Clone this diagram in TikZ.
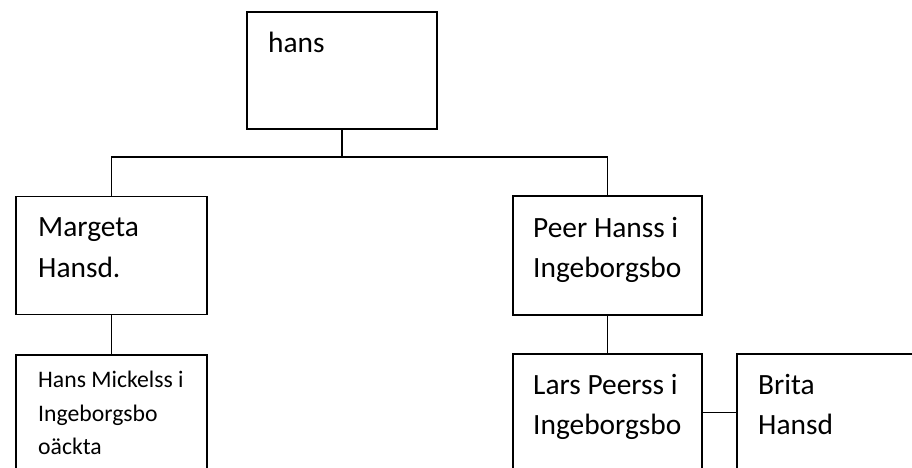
\documentclass[tikz,border=0pt]{standalone}
\usepackage{fontspec}
\setmainfont{Carlito}
\begin{document}
\begin{tikzpicture}[x=1pt,y=-1pt,
  box/.style={draw=black,line width=1.2pt,rectangle,inner sep=0pt,fill=none},
  big/.style={anchor=base west,inner sep=0pt,font=\fontsize{29.4}{36}\selectfont},
  small/.style={anchor=base west,inner sep=0pt,font=\fontsize{23.7}{30}\selectfont},
  link/.style={draw=black,line width=1.2pt}]
\useasboundingbox (0,0) rectangle (912,467);
\clip (0,0) rectangle (912,467);
\fill[white] (0,0) rectangle (912,467);
% boxes
\node[box,minimum width=190pt,minimum height=117pt] (hans) at (342,70.5) {};
\node[box,minimum width=191pt,minimum height=118pt] (marg) at (111.5,255.5) {};
\node[box,minimum width=189pt,minimum height=119pt] (peer) at (607.5,255.5) {};
\node[box,minimum width=191pt,minimum height=117pt] (hansm) at (111.5,413.5) {};
\node[box,minimum width=189pt,minimum height=117pt] (lars) at (607.5,412.5) {};
\node[box,minimum width=190pt,minimum height=117pt] (brita) at (832,412.5) {};
% connectors
\coordinate (bus) at (0,157);
\draw[link] (hans.south) -- (hans.south |- bus);
\draw[link] (marg.north) -- (marg.north |- bus) -- (peer.north |- bus) -- (peer.north);
\draw[link] (marg.south) -- (hansm.north);
\draw[link] (peer.south) -- (lars.north);
\draw[link] (lars.east) -- (brita.west);
% texts
\node[big] (t1) at (268,52) {hans};
\node[big] (t2) at (38,236) {Margeta};
\node[big] (t3) at (38,277) {Hansd.};
\node[small] (t4) at (38,387) {Hans Mickelss i};
\node[small] (t5) at (38,421) {Ingeborgsbo};
\node[small] (t6) at (38,454) {oäckta};
\node[big] (t7) at (533,237) {Peer Hanss i};
\node[big] (t8) at (533,277) {Ingeborgsbo};
\node[big] (t9) at (533,394) {Lars Peerss i};
\node[big] (t10) at (533,434) {Ingeborgsbo};
\node[big] (t11) at (758,394) {Brita};
\node[big] (t12) at (758,434) {Hansd};
\end{tikzpicture}
\end{document}
